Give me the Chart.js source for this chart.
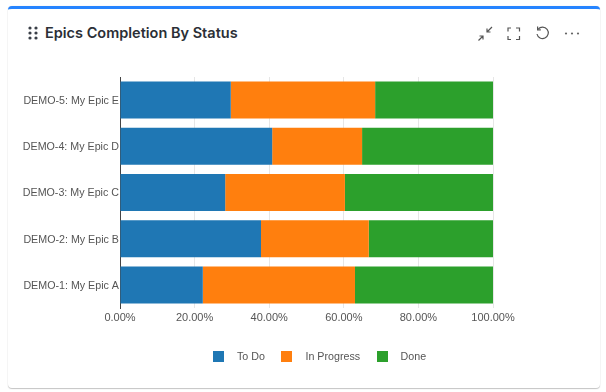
<!DOCTYPE html>
<html>
<head>
<meta charset="utf-8">
<script src="https://cdn.jsdelivr.net/npm/chart.js@4/dist/chart.umd.min.js"></script>
<style>
  html, body { margin: 0; padding: 0; background: #fff; overflow: hidden; }
  body { width: 606px; height: 392px; position: relative; }
  .card {
    position: absolute; left: 8px; top: 6px; width: 592px; height: 379px;
    background: #fff; border-top: 3px solid #2684ff; border-radius: 4px;
    box-shadow: 0 1px 1px 0 #c4c4c4, 0 0 1px 0 #d8d8d8;
  }
  .title {
    position: absolute; left: 45px; top: 24px; line-height: 20px;
    font: 600 14.5px Inter, sans-serif; color: #2b2f36; white-space: nowrap;
  }
  .icon { position: absolute; }
  #chart { position: absolute; left: 0; top: 0; }
  #legend {
    position: absolute; top: 349px; left: 213px; height: 14px;
    display: flex; align-items: center;
    font: 10.7px "Liberation Sans", sans-serif; color: #555;
  }
  #legend .box { width: 11px; height: 11px; margin-right: 13px; }
  #legend .item { display: flex; align-items: center; margin-right: 16.5px; }
</style>
</head>
<body>
<div class="card"></div>
<svg class="icon" style="left:28px;top:26px" width="10" height="14" fill="#3a3f47">
  <circle cx="2" cy="2" r="1.6"/><circle cx="8" cy="2" r="1.6"/>
  <circle cx="2" cy="7" r="1.6"/><circle cx="8" cy="7" r="1.6"/>
  <circle cx="2" cy="12" r="1.6"/><circle cx="8" cy="12" r="1.6"/>
</svg>
<div class="title">Epics Completion By Status</div>
<svg class="icon" style="left:477px;top:26px" width="16" height="16" fill="none" stroke="#555" stroke-width="1.2">
  <path d="M15 1 L10 6 M10 2.5 V6 H13.5"/>
  <path d="M1.5 14.5 L6 10 M2.5 10 H6 V13.5"/>
</svg>
<svg class="icon" style="left:507px;top:27px" width="15" height="15" fill="none" stroke="#555" stroke-width="1.2">
  <path d="M1 4.5 V1 H4 M9 1 H12.5 V4.5 M12.5 9 V12.5 H9 M4 12.5 H1 V9"/>
</svg>
<svg class="icon" style="left:535px;top:26px" width="15" height="15" fill="none" stroke="#555" stroke-width="1.2">
  <path d="M3.2 3.2 A5.7 5.7 0 1 1 2 8"/><path d="M2.6 0.6 V3.8 H5.8"/>
</svg>
<svg class="icon" style="left:564px;top:31px" width="16" height="5" fill="#666">
  <circle cx="2" cy="2.5" r="1.1"/><circle cx="8" cy="2.5" r="1.1"/><circle cx="14" cy="2.5" r="1.1"/>
</svg>

<canvas id="chart" width="606" height="392"></canvas>
<div id="legend"></div>

<script>
const categories = ["DEMO-5: My Epic E", "DEMO-4: My Epic D", "DEMO-3: My Epic C", "DEMO-2: My Epic B", "DEMO-1: My Epic A"];
const toDo = [29.7, 40.8, 28.2, 37.8, 22.2];
const inProgress = [38.7, 24.1, 32.1, 28.9, 40.8];
const done = [31.6, 35.1, 39.7, 33.3, 37.0];
const tickValues = [0, 20, 40, 60, 80, 100];

const seriesColors = ["#1f77b4", "#ff7f0e", "#2ca02c"];
const textColor = "#555";

Chart.defaults.animation = false;

const chart = new Chart(document.getElementById("chart"), {
  type: "bar",
  data: {
    labels: categories,
    datasets: [
      { label: "To Do", data: toDo, backgroundColor: seriesColors[0] },
      { label: "In Progress", data: inProgress, backgroundColor: seriesColors[1] },
      { label: "Done", data: done, backgroundColor: seriesColors[2] }
    ]
  },
  options: {
    indexAxis: "y",
    responsive: false,
    categoryPercentage: 0.8,
    barPercentage: 1,
    layout: { padding: { left: 0, right: 113, top: 77, bottom: 64 } },
    plugins: { legend: { display: false }, tooltip: { enabled: false } },
    scales: {
      x: {
        stacked: true,
        min: 0,
        max: 100,
        afterBuildTicks: axis => { axis.ticks = tickValues.map(v => ({ value: v })); },
        afterFit: axis => { axis.height = 20; },
        grid: { color: "#e6e6e6", drawTicks: false },
        border: { display: false },
        ticks: {
          color: textColor,
          font: { family: "Liberation Sans", size: 11 },
          padding: 3,
          maxRotation: 0,
          callback: v => v.toFixed(2) + "%"
        }
      },
      y: {
        stacked: true,
        afterFit: axis => { axis.width = 120; },
        grid: { display: false, drawTicks: false },
        border: { display: true, color: "#444" },
        ticks: { color: textColor, font: { family: "Liberation Sans", size: 10.7 }, padding: 1, labelOffset: 1 }
      }
    }
  }
});

// legend sits outside the canvas because the gap after each swatch is wider than chart.js allows
const legendEl = document.getElementById("legend");
chart.data.datasets.forEach(ds => {
  const item = document.createElement("div");
  item.className = "item";
  const box = document.createElement("div");
  box.className = "box";
  box.style.background = ds.backgroundColor;
  const label = document.createElement("span");
  label.textContent = ds.label;
  item.append(box, label);
  legendEl.append(item);
});
</script>
</body>
</html>
